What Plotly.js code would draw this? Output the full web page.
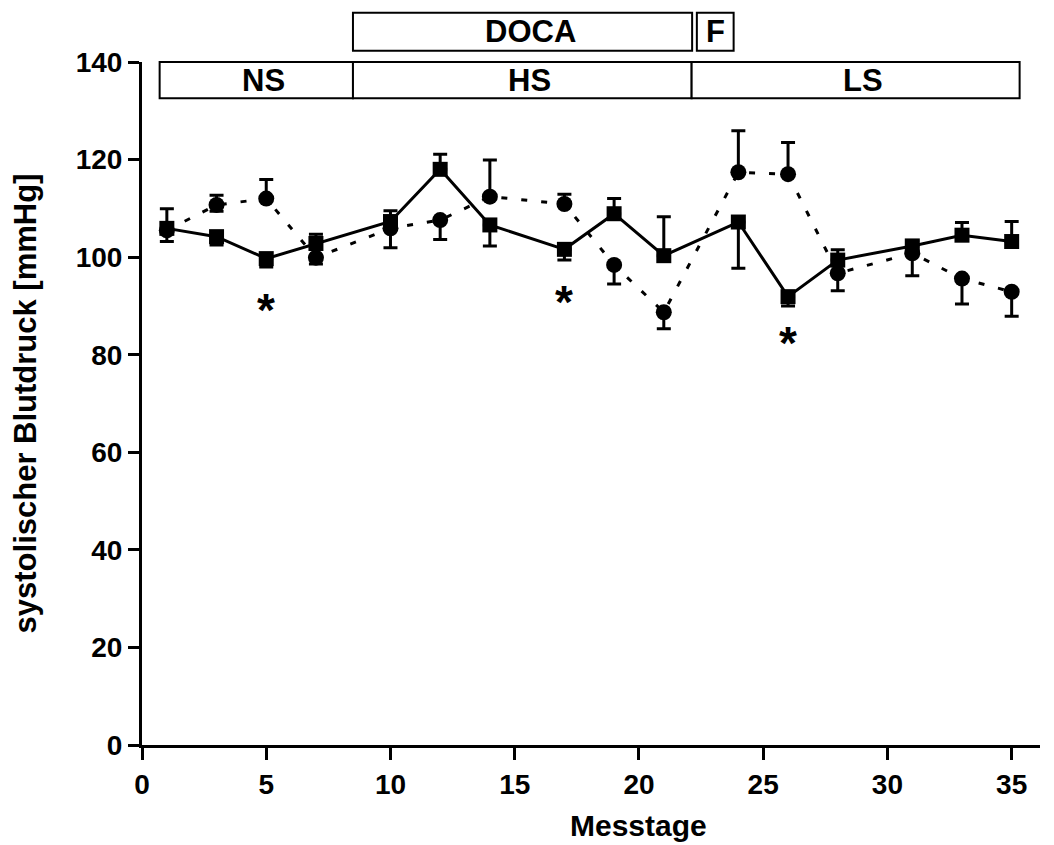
<!DOCTYPE html>
<html>
<head>
<meta charset="utf-8">
<script src="https://cdn.plot.ly/plotly-3.0.1.min.js"></script>
<style>html,body{margin:0;padding:0;background:#fff;}#chart{width:1054px;height:845px;}</style>
</head>
<body>
<div id="chart"></div>
<script>
// Messtage (days)
const days = [1, 3, 5, 7, 10, 12, 14, 17, 19, 21, 24, 26, 28, 31, 33, 35];

// Series with squares (solid line)
const squareMean = [105.9, 104.2, 99.7, 102.8, 107.3, 118.0, 106.6, 101.6, 108.9, 100.3, 107.2, 91.9, 99.4, 102.3, 104.5, 103.2];
const squareErrUp = [4.0, 0, 0, 1.9, 2.2, 3.1, 0, 0, 3.1, 8.0, 0, 0, 2.1, 1.0, 2.6, 4.1];
const squareErrDown = [0, 1.7, 1.7, 0, 0, 0, 4.3, 2.2, 0, 0, 9.5, 1.9, 0, 0, 0, 0];

// Series with circles (dotted line)
const circleMean = [105.5, 110.7, 112.0, 99.9, 105.9, 107.6, 112.4, 110.9, 98.4, 88.7, 117.4, 117.0, 96.7, 100.8, 95.6, 92.9];
const circleErrUp = [0, 2.0, 3.9, 0, 0, 0, 7.5, 2.0, 0, 0, 8.5, 6.5, 0, 0, 0, 0];
const circleErrDown = [2.3, 1.3, 0, 1.3, 4.0, 4.0, 0, 0, 3.9, 3.4, 0, 0, 3.6, 4.6, 5.2, 5.0];

// Significance markers
const starDays = [5, 17, 26];
const starY = [91.2, 92.9, 84.4];

// Phase boxes (lower row: diet, upper row: treatment)
const phaseLabels = ["NS", "HS", "LS"];
const phaseStart = [0.71, 8.49, 22.12];
const phaseEnd = [8.49, 22.12, 35.32];
const treatLabels = ["DOCA", "F"];
const treatStart = [8.49, 22.33];
const treatEnd = [22.14, 23.81];

const yTicks = [0, 20, 40, 60, 80, 100, 120, 140];
const xTicks = [0, 5, 10, 15, 20, 25, 30, 35];
const xTitle = 'Messtage';
const yTitle = 'systolischer Blutdruck [mmHg]';

const FONT = 'Liberation Sans, Arial, Helvetica, sans-serif';

const circleTrace = {
  x: days, y: circleMean, type: 'scatter', mode: 'lines+markers',
  line: {color: '#000', width: 3, dash: '6px,14px'},
  marker: {symbol: 'circle', size: 16, color: '#000'},
  error_y: {type: 'data', symmetric: false, array: circleErrUp, arrayminus: circleErrDown,
            color: '#000', thickness: 3, width: 7},
  showlegend: false, hoverinfo: 'x+y'
};
const squareTrace = {
  x: days, y: squareMean, type: 'scatter', mode: 'lines+markers',
  line: {color: '#000', width: 3},
  marker: {symbol: 'square', size: 15, color: '#000'},
  error_y: {type: 'data', symmetric: false, array: squareErrUp, arrayminus: squareErrDown,
            color: '#000', thickness: 3, width: 7},
  showlegend: false, hoverinfo: 'x+y'
};

const shapes = [];
const annotations = [];
const rowLow = [0.947, 1.0];
const rowHigh = [1.0165, 1.0722];
phaseLabels.forEach((lab, i) => {
  shapes.push({type: 'rect', xref: 'x', yref: 'paper', x0: phaseStart[i], x1: phaseEnd[i],
    y0: rowLow[0], y1: rowLow[1], line: {color: '#000', width: 2}, fillcolor: '#fff', layer: 'above'});
  annotations.push({xref: 'x', yref: 'paper', x: (phaseStart[i] + phaseEnd[i]) / 2, xshift: 7,
    y: (rowLow[0] + rowLow[1]) / 2, text: lab, showarrow: false, xanchor: 'center', yanchor: 'middle',
    font: {family: FONT, size: 31, weight: 'bold', color: '#000'}});
});
treatLabels.forEach((lab, i) => {
  shapes.push({type: 'rect', xref: 'x', yref: 'paper', x0: treatStart[i], x1: treatEnd[i],
    y0: rowHigh[0], y1: rowHigh[1], line: {color: '#000', width: 2}, fillcolor: '#fff', layer: 'above'});
  annotations.push({xref: 'x', yref: 'paper', x: (treatStart[i] + treatEnd[i]) / 2, xshift: i === 0 ? 8 : 0,
    y: (rowHigh[0] + rowHigh[1]) / 2, text: lab, showarrow: false, xanchor: 'center', yanchor: 'middle',
    font: {family: FONT, size: 31, weight: 'bold', color: '#000'}});
});
starDays.forEach((d, i) => {
  annotations.push({xref: 'x', yref: 'y', x: d, y: starY[i], text: '*', showarrow: false,
    xanchor: 'center', yanchor: 'middle', yshift: -10,
    font: {family: FONT, size: 46, weight: 'bold', color: '#000'}});
});
// x-axis title, centred under day 20 as in the original
annotations.push({xref: 'x', yref: 'paper', x: 20, y: -0.118, text: xTitle, showarrow: false,
  xanchor: 'center', yanchor: 'middle',
  font: {family: FONT, size: 30, weight: 'bold', color: '#000'}});

const layout = {
  width: 1054, height: 845,
  margin: {l: 142, r: 14, t: 62, b: 100, pad: 0},
  paper_bgcolor: '#fff', plot_bgcolor: '#fff',
  font: {family: FONT, size: 28, color: '#000', weight: 'bold'},
  showlegend: false,
  xaxis: {
    range: [0, 36.14], tickvals: xTicks, ticktext: xTicks.map(String),
    showgrid: false, zeroline: false, showline: true, linecolor: '#000', linewidth: 3,
    ticks: 'outside', ticklen: 12, tickwidth: 3, tickcolor: '#000',
    tickfont: {family: FONT, size: 28, weight: 'bold', color: '#000'},
    automargin: false, fixedrange: true
  },
  yaxis: {
    range: [0, 140], tickvals: yTicks, ticktext: yTicks.map(String),
    showgrid: false, zeroline: false, showline: true, linecolor: '#000', linewidth: 3,
    ticks: 'outside', ticklen: 11, tickwidth: 3, tickcolor: '#000',
    tickfont: {family: FONT, size: 28, weight: 'bold', color: '#000'},
    title: {text: yTitle, font: {family: FONT, size: 31, weight: 'bold', color: '#000'}, standoff: 30},
    automargin: false, fixedrange: true
  },
  shapes: shapes,
  annotations: annotations
};

Plotly.newPlot('chart', [circleTrace, squareTrace], layout, {displayModeBar: false, staticPlot: true});
</script>
</body>
</html>
